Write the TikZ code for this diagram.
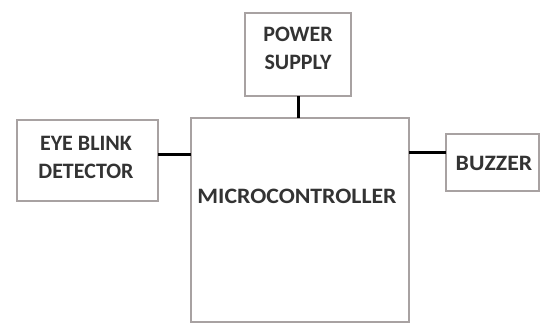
\documentclass[tikz,border=0pt]{standalone}
\usepackage{fontspec}
\setmainfont{Carlito}
\definecolor{boxline}{HTML}{A8A2A2}
\definecolor{txt}{HTML}{333333}
\begin{document}
\begin{tikzpicture}[x=1pt,y=-1pt,
  blk/.style={draw=boxline,line width=1.6pt,fill=white},
  lbl/.style={text=txt,font=\fontsize{22}{28}\selectfont\bfseries,align=center,inner sep=0pt},
  wire/.style={line width=3pt,black}]
\useasboundingbox[fill=white] (0,0) rectangle (544,324);
% boxes
\draw[blk] (245,13) rectangle (351,96);
\coordinate (psb) at (298,96);
\draw[blk] (191,118) rectangle (409,322);
\coordinate (mct) at (298,118);
\coordinate (mcl) at (191,154);
\coordinate (mcr) at (409,152);
\draw[blk] (17,120) rectangle (158,201);
\coordinate (ebr) at (158,154);
\draw[blk] (446,134) rectangle (539,191);
\coordinate (bzl) at (446,152);
% labels
\node[lbl] (ps) at (298,48) {POWER\\SUPPLY};
\node[lbl] (eb) at (86,157) {EYE BLINK\\DETECTOR};
\node[lbl] (bz) at (494,163) {\scalebox{1.08}[1]{BUZZER}};
\node[lbl] (mc) at (297,196) {\scalebox{1.08}[1]{MICROCONTROLLER}};
% connectors
\draw[wire] (psb) -- (mct);
\draw[wire] (ebr) -- (mcl);
\draw[wire] (mcr) -- (bzl);
\end{tikzpicture}
\end{document}
